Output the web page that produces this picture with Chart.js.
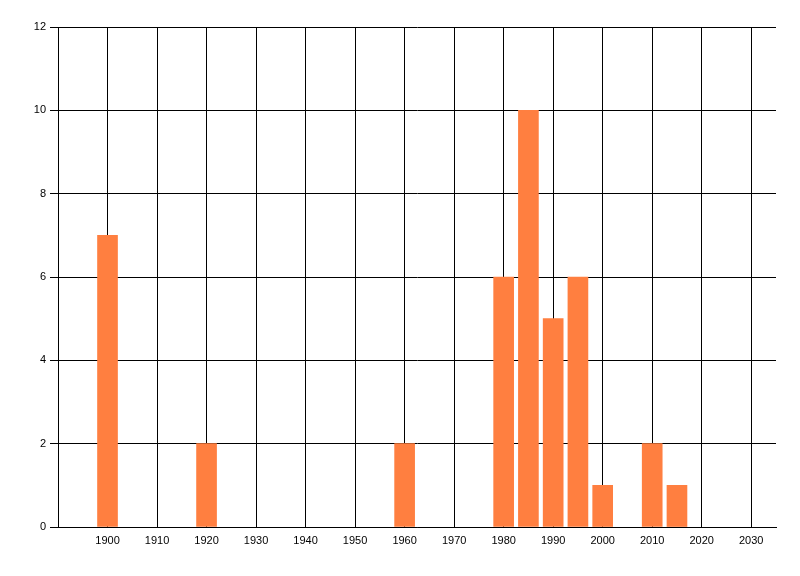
<!DOCTYPE html>
<html><head><meta charset="utf-8">
<script src="https://cdn.jsdelivr.net/npm/chart.js@4"></script>
<style>html,body{margin:0;padding:0;background:#fff;}#wrap{width:800px;height:576px;}</style>
</head><body><div id="wrap"><canvas id="c" width="800" height="576"></canvas></div>
<script>
const years = [1900, 1920, 1960, 1980, 1985, 1990, 1995, 2000, 2010, 2015];
const counts = [7, 2, 2, 6, 10, 5, 6, 1, 2, 1];
const xTickValues = [1900,1910,1920,1930,1940,1950,1960,1970,1980,1990,2000,2010,2020,2030];
const xMin = 1890, xMax = 2035;
const yMin = 0, yMax = 12, yStep = 2;

const ctx = document.getElementById('c');
new Chart(ctx, {
  type: 'bar',
  data: {
    datasets: [{
      data: years.map((y, i) => ({x: y, y: counts[i]})),
      backgroundColor: '#FF7F40',
      borderWidth: 0,
      barThickness: 20
    }]
  },
  options: {
    responsive: false,
    animation: false,
    devicePixelRatio: 1,
    layout: {padding: {top: 27, right: 24, left: 0, bottom: 0}},
    plugins: {legend: {display: false}, tooltip: {enabled: false}},
    scales: {
      x: {
        type: 'linear',
        min: xMin, max: xMax,
        offset: false,
        afterBuildTicks: s => { s.ticks = xTickValues.map(v => ({value: v})); },
        afterFit: s => { s.height = 49; },
        grid: {offset: false, color: '#000', lineWidth: 1, tickLength: 0, drawTicks: false},
        border: {color: '#000', width: 1},
        ticks: {color: '#000', font: {family: 'Liberation Sans', size: 11}, padding: 7, maxRotation: 0, autoSkip: false, callback: v => String(v)}
      },
      y: {
        min: yMin, max: yMax,
        ticks: {stepSize: yStep, color: '#000', font: {family: 'Liberation Sans', size: 11}, padding: 4},
        afterFit: s => { s.width = 58; },
        grid: {color: '#000', lineWidth: 1, tickLength: 8, drawTicks: true},
        border: {color: '#000', width: 1}
      }
    }
  }
});
</script></body></html>
